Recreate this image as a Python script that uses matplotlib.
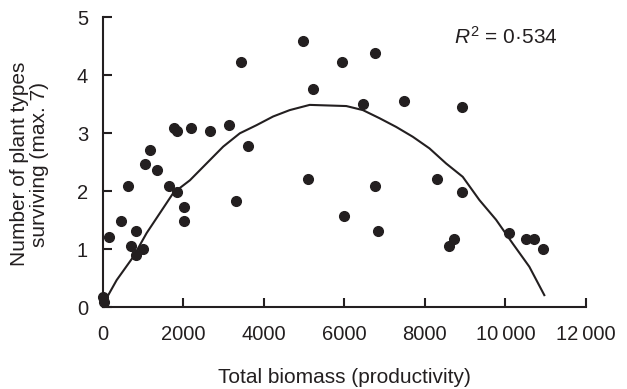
import matplotlib
matplotlib.use("Agg")
from matplotlib import pyplot as plt

plt.rcParams['font.family'] = ['Liberation Sans', 'DejaVu Sans']
plt.rcParams['mathtext.fontset'] = 'custom'
plt.rcParams['mathtext.rm'] = 'Liberation Sans'
plt.rcParams['mathtext.it'] = 'Liberation Sans:italic'

# Observed points
biomass = [0, 30, 169, 459, 640, 698, 822, 822, 996, 1062, 1177, 1351, 1657,
           1772, 1838, 1838, 2020, 2020, 2186, 2664, 3143, 3325, 3440, 3623,
           4987, 5101, 5225, 5944, 6003, 6464, 6771, 7480, 8917, 6771, 6835,
           8315, 8917, 8612, 8736, 10099, 10513, 10702, 10942]
plant_types = [0.18, 0.1, 1.22, 1.48, 2.10, 1.06, 1.32, 0.90, 1.01, 2.47, 2.72,
               2.36, 2.10, 3.09, 3.04, 1.99, 1.73, 1.48, 3.09, 3.04, 3.14, 1.84,
               4.23, 2.78, 4.60, 2.21, 3.77, 4.23, 1.58, 3.50, 4.39, 3.56, 3.46,
               2.10, 1.32, 2.21, 1.99, 1.06, 1.17, 1.28, 1.17, 1.17, 1.01]

# Fitted curve
fit_x = [5, 352, 763, 1095, 1755, 2169, 2582, 2995, 3408, 3822, 4235, 4647,
         5143, 6052, 6464, 6877, 7290, 7703, 8116, 8529, 8942, 9355, 9769,
         10182, 10595, 10967]
fit_y = [0.04, 0.47, 0.87, 1.28, 1.97, 2.19, 2.48, 2.77, 3.00, 3.14, 3.29, 3.40,
         3.49, 3.47, 3.40, 3.26, 3.11, 2.94, 2.74, 2.48, 2.25, 1.85, 1.51,
         1.10, 0.70, 0.21]

x_ticks = [0, 2000, 4000, 6000, 8000, 10000, 12000]
x_tick_labels = ['0', '2000', '4000', '6000', '8000', '10\u2009000', '12\u2009000']
y_ticks = [0, 1, 2, 3, 4, 5]

ink = '#231f20'

fig = plt.figure(figsize=(6.27, 3.89), dpi=100)
ax = fig.add_axes([0.1635, 0.21, 0.771, 0.7455])

ax.plot(fit_x, fit_y, color=ink, linewidth=1.5, zorder=2)
ax.plot(biomass, plant_types, 'o', color=ink, markersize=7,
        clip_on=False, zorder=3)

ax.set_xlim(0, 12000)
ax.set_ylim(0, 5)
ax.set_xticks(x_ticks)
ax.set_xticklabels(x_tick_labels)
ax.set_yticks(y_ticks)

for side in ['top', 'right']:
    ax.spines[side].set_visible(False)
for side in ['left', 'bottom']:
    ax.spines[side].set_linewidth(1.5)
    ax.spines[side].set_color(ink)

ax.tick_params(direction='in', length=6.5, width=1.5, color=ink,
               labelsize=14.5, labelcolor=ink)
ax.tick_params(axis='x', pad=12.5)
ax.tick_params(axis='y', pad=10.4)

ax.set_xlabel('Total biomass (productivity)', fontsize=15, color=ink)
ax.xaxis.set_label_coords(0.5, -0.208)
ax.set_ylabel('Number of plant types\nsurviving (max. 7)', fontsize=15,
              color=ink, linespacing=1.1)
ax.yaxis.set_label_coords(-0.11, 0.494)

ax.text(0.727, 0.971, '$R^2$ = 0\u00b7534', transform=ax.transAxes,
        fontsize=15, color=ink, ha='left', va='top')

plt.savefig('out.png', dpi=100)
